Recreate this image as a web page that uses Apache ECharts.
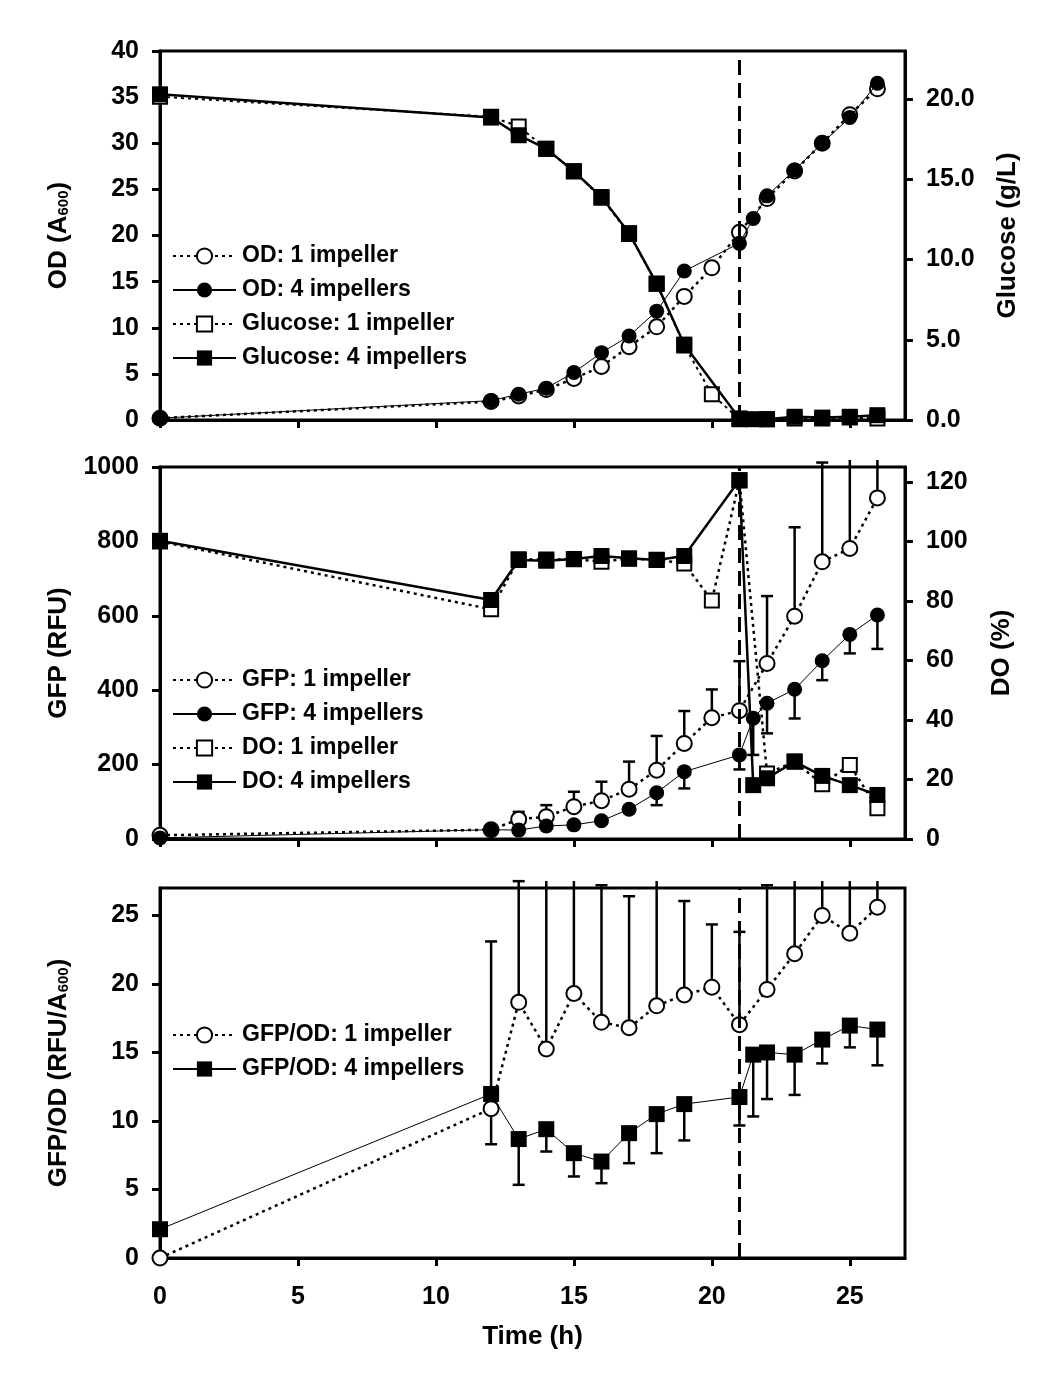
<!DOCTYPE html>
<html><head><meta charset="utf-8">
<script src="https://cdn.jsdelivr.net/npm/echarts@6.0.0/dist/echarts.min.js"></script>
<style>html,body{margin:0;padding:0;background:#fff}#c{width:1062px;height:1376px}</style>
</head><body><div id="c"></div><script>
// ---- data ----
const times1 = [0,12,13,14,15,16,17,18,19,20,21,22,23,24,25,26];      // 1 impeller sampling times (h)
const times4 = [0,12,13,14,15,16,17,18,19,21,21.5,22,23,24,25,26];    // 4 impellers sampling times (h)

const od1  = [0.2,2.0,2.6,3.3,4.5,5.8,7.95,10.1,13.4,16.5,20.35,24.0,27.0,30.0,33.1,35.9];
const od4  = [0.2,2.1,2.8,3.45,5.15,7.3,9.1,11.8,16.15,19.15,21.85,24.3,27.1,30.0,32.8,36.5];
const glc1 = [20.15,18.9,18.3,16.9,15.5,13.85,11.6,8.5,4.65,1.6,0.05,0.05,0.1,0.1,0.15,0.1];
const glc4 = [20.3,18.85,17.75,16.9,15.5,13.9,11.65,8.5,4.7,0.1,0.05,0.05,0.2,0.15,0.2,0.3];

const gfp1    = [10,25,53,60,87,103,134,185,257,326,345,472,599,745,781,917];
const gfp1Up  = [null,null,73,91,127,154,208,277,344,402,478,653,838,1012,1100,1100];
const gfp4    = [3,25,24,35,38,49,80,124.5,181,226,324.5,365,402.5,479,550,602];
const gfp4Low = [null,null,null,null,null,null,70,91,136,187,226,284,324,427,499,511];
const do1     = [100,77.2,94,93.9,94,93.2,94.2,93.8,92.6,80.1,120.5,22,26,18.4,24.9,10.3];
const do4     = [100.2,80.3,93.75,93.5,94.1,95.1,94.3,93.75,95.1,120.6,18.1,20.4,26.0,21.2,18.1,14.8];

const ratio1    = [0,10.9,18.66,15.25,19.3,17.2,16.8,18.4,19.2,19.76,17.03,19.6,22.2,25.0,23.7,25.6];
const ratio1Up  = [null,23.1,27.5,30,30,27.2,26.4,30,26.05,24.34,23.8,27.2,30,30,30,30];
const ratio4    = [2.1,11.97,8.68,9.4,7.65,7.04,9.11,10.5,11.23,11.75,14.84,15.0,14.84,15.94,16.96,16.67];
const ratio4Low = [null,8.3,5.34,7.77,5.95,5.46,6.92,7.65,8.58,9.67,10.33,11.6,11.9,14.2,15.37,14.06];

const inductionTime = 21;
const timeTicks = [0,5,10,15,20,25];

// ---- helpers ----
const zip = (t, v) => t.map((x, i) => [x, v[i]]);
const zipErr = (t, v, e) => t.map((x, i) => [x, v[i], e[i]]).filter(d => d[2] != null);
const FONT = 'Liberation Sans, Arial, sans-serif';
const BLACK = '#000';
const DOT = [3, 4];

function errBar(params, api) {
  const x = api.value(0), v = api.value(1), e = api.value(2);
  const p0 = api.coord([x, v]), p1 = api.coord([x, e]);
  const cs = params.coordSys;
  let y1 = p1[1], cap = true;
  const lim = cs.y - 7;
  if (y1 < lim) { y1 = lim; cap = false; }
  const st = {stroke: BLACK, lineWidth: 2.5};
  const ch = [{type: 'line', shape: {x1: p0[0], y1: p0[1], x2: p0[0], y2: y1}, style: st}];
  if (cap) ch.push({type: 'line', shape: {x1: p0[0] - 6, y1: y1, x2: p0[0] + 6, y2: y1}, style: st});
  return {type: 'group', children: ch};
}

const grids = [
  {left: 160, top: 51, width: 745, height: 369},
  {left: 160, top: 467, width: 745, height: 372},
  {left: 160, top: 888, width: 745, height: 370}
].map(g => Object.assign(g, {show: true, borderColor: BLACK, borderWidth: 3, backgroundColor: 'transparent', containLabel: false, outerBoundsMode: 'none'}));

function xAx(i, labels) {
  return {
    type: 'value', gridIndex: i, min: 0, max: 27, interval: 5,
    axisLine: {show: true, onZero: false, lineStyle: {color: BLACK, width: 3}},
    axisTick: {show: true, inside: false, length: 8, lineStyle: {color: BLACK, width: 3},
               customValues: timeTicks},
    axisLabel: {show: labels, margin: 27, fontSize: 25, fontWeight: 'bold', color: BLACK, fontFamily: FONT,
                customValues: timeTicks},
    splitLine: {show: false},
    name: labels ? 'Time (h)' : '', nameLocation: 'middle', nameGap: 66,
    nameTextStyle: {fontSize: 26, fontWeight: 'bold', color: BLACK, fontFamily: FONT}
  };
}
function yAx(i, pos, min, max, interval, name, gap, showMax, fmt) {
  return {
    type: 'value', gridIndex: i, position: pos, min: min, max: max, interval: interval,
    axisLine: {show: true, onZero: false, lineStyle: {color: BLACK, width: 3}},
    axisTick: {show: true, inside: false, length: 8, lineStyle: {color: BLACK, width: 3}},
    axisLabel: {margin: 21, fontSize: 25, fontWeight: 'bold', color: BLACK, fontFamily: FONT,
                showMaxLabel: showMax, formatter: fmt || (v => String(v))},
    splitLine: {show: false},
    name: name, nameLocation: 'middle', nameRotate: 90, nameGap: gap,
    nameTextStyle: {fontSize: 26, fontWeight: 'bold', color: BLACK, fontFamily: FONT,
                    rich: {s: {fontSize: 15, fontWeight: 'bold', color: BLACK, fontFamily: FONT, padding: [10, 0, 0, 0]},
                           n: {fontSize: 26, fontWeight: 'bold', color: BLACK, fontFamily: FONT}}}
  };
}

function lineSeries(name, xi, yi, data, symbol, size, lineType, width, z) {
  return {
    type: 'line', name: name, xAxisIndex: xi, yAxisIndex: yi, data: data,
    symbol: symbol, symbolSize: size, showAllSymbol: true,
    lineStyle: {color: BLACK, width: width, type: lineType},
    itemStyle: {color: BLACK, borderColor: BLACK, borderWidth: symbol.indexOf('empty') === 0 ? 2 : 0},
    emphasis: {disabled: true}, animation: false, z: z || 3
  };
}
function errSeries(xi, yi, data) {
  return {type: 'custom', xAxisIndex: xi, yAxisIndex: yi, data: data, renderItem: errBar,
          silent: true, animation: false, z: 2};
}
function vline(xi, yi) {
  return {type: 'line', xAxisIndex: xi, yAxisIndex: yi, data: [], silent: true, animation: false,
    markLine: {silent: true, symbol: 'none', animation: false, label: {show: false},
      lineStyle: {color: BLACK, width: 3, type: [15, 8]},
      data: [{xAxis: inductionTime}]}};
}
function legend(top, names) {
  return {
    orient: 'vertical', left: 172, top: top, padding: 0, itemGap: 10, itemWidth: 63, itemHeight: 19,
    selectedMode: false, data: names,
    textStyle: {fontSize: 23, fontWeight: 'bold', color: BLACK, fontFamily: FONT, lineHeight: 24, padding: [0, 0, 0, 1]}
  };
}

const option = {
  backgroundColor: '#fff',
  animation: false,
  textStyle: {fontFamily: FONT},
  grid: grids,
  xAxis: [xAx(0, false), xAx(1, false), xAx(2, true)],
  yAxis: [
    yAx(0, 'left', 0, 40, 5, '{n|OD (A}{s|600}{n|)}', 88, true),
    yAx(0, 'right', 0, 23, 5, 'Glucose (g/L)', 90, false, v => v.toFixed(1)),
    yAx(1, 'left', 0, 1000, 200, 'GFP (RFU)', 88, true),
    yAx(1, 'right', 0, 125, 20, 'DO (%)', 84, false),
    yAx(2, 'left', 0, 27, 5, '{n|GFP/OD (RFU/A}{s|600}{n|)}', 88, false)
  ],
  legend: [
    legend(244, ['OD: 1 impeller', 'OD: 4 impellers', 'Glucose: 1 impeller', 'Glucose: 4 impellers']),
    legend(668, ['GFP: 1 impeller', 'GFP: 4 impellers', 'DO: 1 impeller', 'DO: 4 impellers']),
    legend(1023, ['GFP/OD: 1 impeller', 'GFP/OD: 4 impellers'])
  ],
  series: [
    vline(0, 0), vline(1, 2), vline(2, 4),
    // panel 1
    lineSeries('Glucose: 1 impeller', 0, 1, zip(times1, glc1), 'emptyRect', 14, DOT, 2),
    lineSeries('OD: 1 impeller', 0, 0, zip(times1, od1), 'emptyCircle', 15, DOT, 2.5),
    lineSeries('Glucose: 4 impellers', 0, 1, zip(times4, glc4), 'rect', 16, 'solid', 2.5, 4),
    lineSeries('OD: 4 impellers', 0, 0, zip(times4, od4), 'circle', 15, 'solid', 1, 4),
    // panel 2
    errSeries(1, 2, zipErr(times1, gfp1, gfp1Up)),
    errSeries(1, 2, zipErr(times4, gfp4, gfp4Low)),
    lineSeries('DO: 1 impeller', 1, 3, zip(times1, do1), 'emptyRect', 14, DOT, 2.5),
    lineSeries('GFP: 1 impeller', 1, 2, zip(times1, gfp1), 'emptyCircle', 15, DOT, 2.5),
    lineSeries('DO: 4 impellers', 1, 3, zip(times4, do4), 'rect', 16, 'solid', 2.5, 4),
    lineSeries('GFP: 4 impellers', 1, 2, zip(times4, gfp4), 'circle', 15, 'solid', 1, 4),
    // panel 3
    errSeries(2, 4, zipErr(times1, ratio1, ratio1Up)),
    errSeries(2, 4, zipErr(times4, ratio4, ratio4Low)),
    lineSeries('GFP/OD: 1 impeller', 2, 4, zip(times1, ratio1), 'emptyCircle', 15, DOT, 2.5),
    lineSeries('GFP/OD: 4 impellers', 2, 4, zip(times4, ratio4), 'rect', 16, 'solid', 1, 4)
  ]
};
const chart = echarts.init(document.getElementById('c'), null, {renderer: 'canvas'});
chart.setOption(option);
</script></body></html>
